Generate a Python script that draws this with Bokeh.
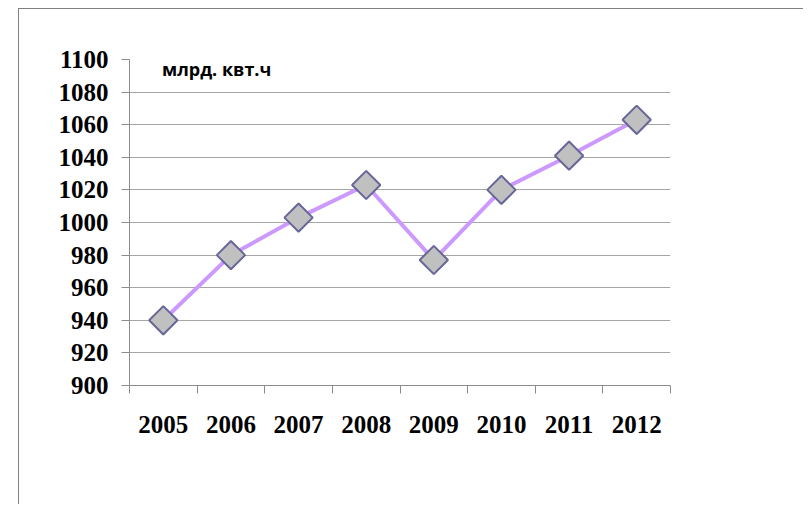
import numpy as np
from bokeh.plotting import figure
from bokeh.models import Range1d, FixedTicker, Label
from bokeh.embed import file_html
from bokeh.resources import INLINE

years = ["2005", "2006", "2007", "2008", "2009", "2010", "2011", "2012"]
values = [940, 980, 1003, 1023, 977, 1020, 1041, 1063]
y_ticks = [900, 920, 940, 960, 980, 1000, 1020, 1040, 1060, 1080, 1100]
unit_label = "млрд. квт.ч"

x = [i + 0.5 for i in range(len(years))]
boundaries = list(range(len(years) + 1))

p = figure(width=785, height=496, output_backend="svg", toolbar_location=None,
           x_range=Range1d(0, len(years)), y_range=Range1d(y_ticks[0], y_ticks[-1]),
           min_border_left=110, min_border_top=50, min_border_right=134,
           min_border_bottom=120)
p.margin = (8, 0, 0, 18)
p.styles = {"border-top": "1px solid #808080", "border-left": "1px solid #808080"}
p.outline_line_color = None
p.background_fill_color = "white"
p.border_fill_color = "white"

axis_gray = "#8c8c8c"

# x axis
p.xaxis.ticker = FixedTicker(ticks=x, minor_ticks=boundaries)
p.xaxis.major_label_overrides = {xi: yr for xi, yr in zip(x, years)}
p.xaxis.major_tick_line_color = None
p.xaxis.major_tick_out = 0
p.xaxis.major_tick_in = 0
p.xaxis.minor_tick_out = 8
p.xaxis.minor_tick_in = 0
p.xaxis.minor_tick_line_color = axis_gray
p.xaxis.axis_line_color = axis_gray
p.xaxis.major_label_standoff = 22
p.xaxis.major_label_text_font = "Liberation Serif"
p.xaxis.major_label_text_font_style = "bold"
p.xaxis.major_label_text_font_size = "25px"
p.xaxis.major_label_text_color = "black"

# y axis
p.yaxis.ticker = FixedTicker(ticks=y_ticks, minor_ticks=[])
p.yaxis.major_tick_out = 8
p.yaxis.major_tick_in = 0
p.yaxis.major_tick_line_color = axis_gray
p.yaxis.minor_tick_line_color = None
p.yaxis.axis_line_color = axis_gray
p.yaxis.major_label_standoff = 13
p.yaxis.major_label_text_font = "Liberation Serif"
p.yaxis.major_label_text_font_style = "bold"
p.yaxis.major_label_text_font_size = "25px"
p.yaxis.major_label_text_color = "black"

p.xgrid.grid_line_color = None
p.ygrid.ticker = FixedTicker(ticks=y_ticks)
p.ygrid.grid_line_color = "#a6a6a6"
p.ygrid.grid_line_width = 1

p.line(x, values, line_color="#CC99FF", line_width=4)
p.scatter(x, values, marker="square", angle=np.pi / 4, size=20,
          fill_color="#C0C0C0", line_color="#666699", line_width=2)

p.add_layout(Label(x=0.48, y=1094, text=unit_label, text_font="Open Sans",
                   text_font_style="bold", text_font_size="18px",
                   text_baseline="middle", text_color="black"))

open("out.html", "w").write(file_html(p, INLINE))
